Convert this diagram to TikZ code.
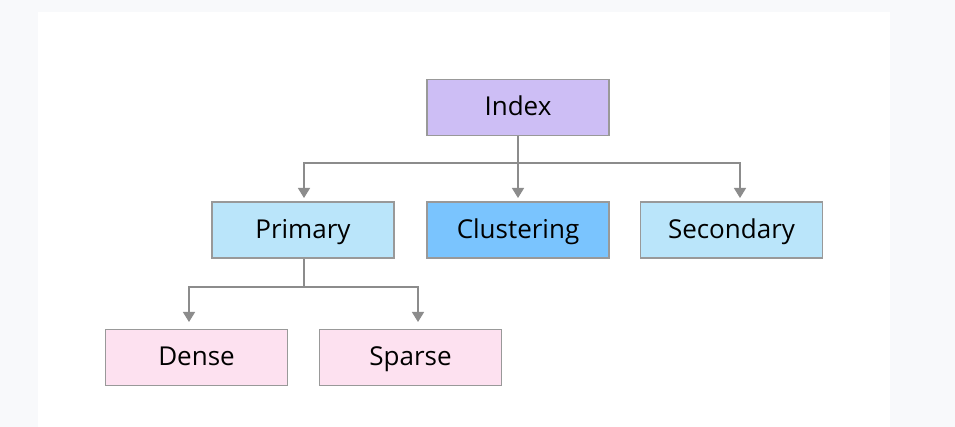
\documentclass[tikz,border=0pt]{standalone}
\usepackage{fontspec}
\setmainfont{Open Sans}
\usetikzlibrary{arrows.meta,calc}
\definecolor{outerbg}{HTML}{F8F9FB}
\definecolor{idxfill}{HTML}{CDBEF5}
\definecolor{bluefill}{HTML}{BAE5FA}
\definecolor{clufill}{HTML}{7AC4FE}
\definecolor{pinkfill}{HTML}{FDE1F0}
\definecolor{edgecol}{HTML}{8C8C8C}
\definecolor{bordercol}{HTML}{999999}
\tikzset{
  box/.style={draw=bordercol, line width=1.2pt, minimum width=182pt, minimum height=56pt, inner sep=0pt, text height=19pt, text depth=2pt, font=\fontsize{26}{30}\selectfont, text=black},
  link/.style={draw=edgecol, line width=1.3pt},
  arr/.style={link, -{Triangle[width=12pt,length=10pt]}},
}
\begin{document}
\begin{tikzpicture}[x=1pt,y=-1pt]
\fill[outerbg] (0,0) rectangle (955,427);
\fill[white] (38,12) rectangle (890,427);
\useasboundingbox (0,0) rectangle (955,427);

\node[box, fill=idxfill] (idx) at (518,107.5) {Index};
\node[box, fill=bluefill] (pri) at (303,230) {Primary};
\node[box, fill=clufill] (clu) at (518,230) {Clustering};
\node[box, fill=bluefill] (sec) at (731.5,230) {Secondary};
\node[box, fill=pinkfill] (den) at (196.5,357.3) {Dense};
\node[box, fill=pinkfill] (spa) at (410.5,357.3) {Sparse};

\coordinate (b1) at (518,163);
\coordinate (tpri) at (304,198);
\coordinate (tclu) at (518,198);
\coordinate (tsec) at (740,198);
\coordinate (b2) at (304,287);
\coordinate (tden) at (189,322);
\coordinate (tspa) at (418,322);

\draw[link] (idx.south) -- (b1);
\draw[arr] (b1) -| (tpri);
\draw[arr] (b1) -- (tclu);
\draw[arr] (b1) -| (tsec);
\draw[link] (pri.south -| b2) -- (b2);
\draw[arr] (b2) -| (tden);
\draw[arr] (b2) -| (tspa);
\end{tikzpicture}
\end{document}
